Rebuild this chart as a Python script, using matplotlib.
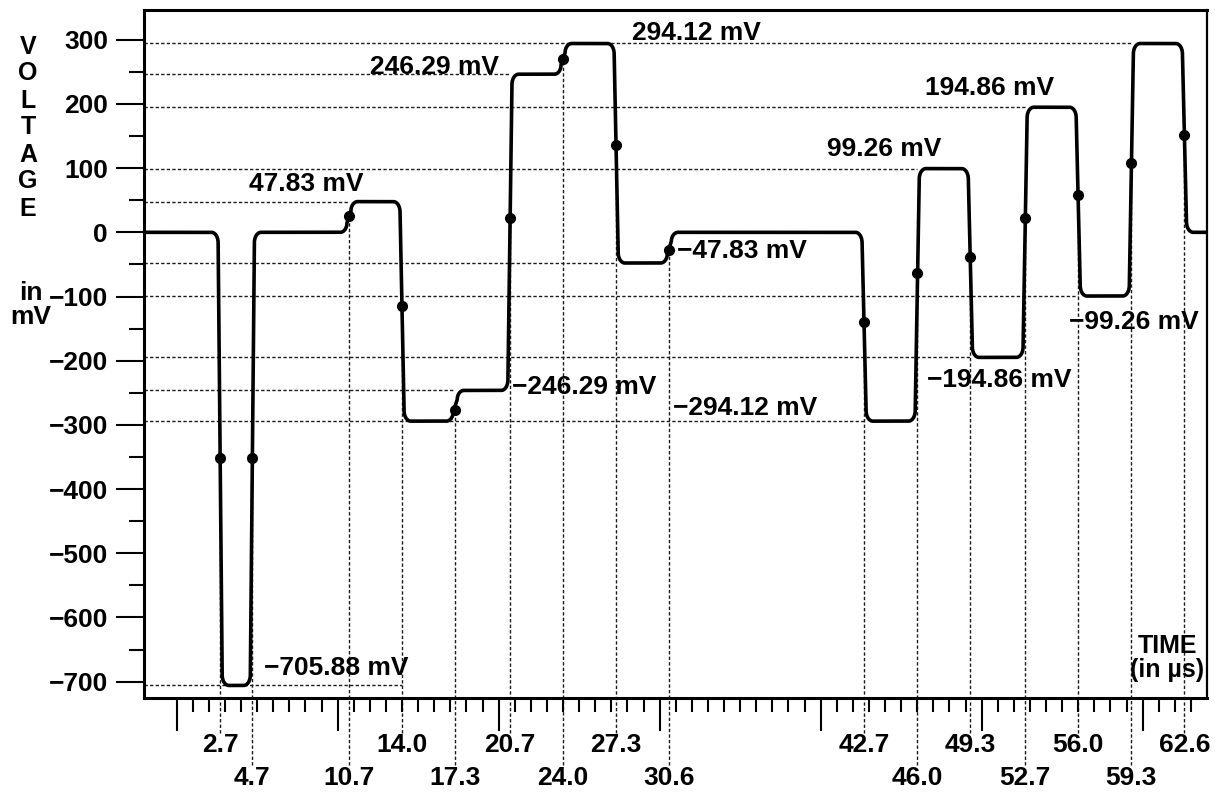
import matplotlib
matplotlib.use('Agg')
import matplotlib.pyplot as plt
import numpy as np

plt.rcParams['font.family'] = ['Liberation Sans', 'DejaVu Sans']
plt.rcParams['font.weight'] = 'bold'

# transition times (us), level reached after each transition (mV), dot voltages
t_edges = [2.7, 4.7, 10.7, 14.0, 17.3, 20.7, 24.0, 27.3, 30.6, 42.7, 46.0, 49.3, 52.7, 56.0, 59.3, 62.6]
v_levels = [-705.88, 0, 47.83, -294.12, -246.29, 246.29, 294.12, -47.83, 0,
            -294.12, 99.26, -194.86, 194.86, -99.26, 294.12, 0]
v_start = 0
v_dots = [-352, -352, 25, -115, -277, 22, 270, 136, -27, -140, -63, -38, 22, 58, 108, 152]
label_row = [0, 1, 1, 0, 1, 0, 1, 0, 1, 0, 1, 0, 1, 0, 1, 0]   # 0 = upper row, 1 = lower row

# reference levels with dashed lines: value, time where the line stops
ref_levels = [294.12, 246.29, 194.86, 99.26, 47.83, -47.83, -99.26, -194.86, -246.29, -294.12, -705.88]
ref_until = [59.3, 20.7, 52.7, 46.0, 10.7, 27.3, 56.0, 49.3, 17.3, 42.7, 14.0]

# level annotations: text, left x (us), centre y (mV)
level_text = ['47.83 mV', '246.29 mV', '294.12 mV', '\u221247.83 mV', '\u2212246.29 mV',
              '\u2212294.12 mV', '\u2212705.88 mV', '99.26 mV', '194.86 mV',
              '\u2212194.86 mV', '\u221299.26 mV']
text_x = [4.5, 12.0, 28.3, 31.1, 20.8, 30.8, 5.4, 40.4, 46.5, 46.6, 55.4]
text_y = [75, 257, 311, -29, -241, -274, -679, 130, 225, -230, -140]

XLIM = (-2.03, 64.0)
YLIM = (-725.4, 346.3)
W, H = 1215, 795


def edge(t0, a, b, lean=0.25, rx=0.42, ry=16.0, n=14):
    # one rounded edge from level a to level b centred on t0
    s = np.sign(b - a)
    ry = min(ry, 0.3 * abs(b - a))
    th1 = np.linspace(-np.pi / 2, 0, n)
    cx1, cy1 = t0 - lean / 2 - rx, a + s * ry
    p1 = np.c_[cx1 + rx * np.cos(th1), cy1 + s * ry * np.sin(th1)]
    th2 = np.linspace(np.pi, np.pi / 2, n)
    cx2, cy2 = t0 + lean / 2 + rx, b - s * ry
    p2 = np.c_[cx2 + rx * np.cos(th2), cy2 + s * ry * np.sin(th2)]
    return np.vstack([p1, p2])


fig = plt.figure(figsize=(W / 100, H / 100), dpi=100)
ax = fig.add_axes([144 / W, 1 - 698 / H, (1207 - 144) / W, (698 - 10) / H])
ax.set_xlim(*XLIM)
ax.set_ylim(*YLIM)

dash = (0, (2.4, 1.6))

# horizontal reference lines
ax.hlines(ref_levels, XLIM[0], ref_until, colors='#1a1a1a', linewidth=1.0,
          linestyles=[dash], zorder=1)

# vertical lines from the edge dots down to the time labels
frac_end = [-0.051, -0.097]
frac_lab = [-0.068, -0.117]
for t, vd, r in zip(t_edges, v_dots, label_row):
    y_end = YLIM[0] + frac_end[r] * (YLIM[1] - YLIM[0])
    ax.vlines(t, y_end, vd, colors='#1a1a1a', linewidth=1.0, linestyles=[dash],
              zorder=1, clip_on=False)
    ax.text(t, frac_lab[r], f'{t:.1f}', transform=ax.get_xaxis_transform(),
            ha='center', va='center', fontsize=19)

# waveform
pts = [np.array([[XLIM[0], v_start]])]
prev = v_start
for t, v in zip(t_edges, v_levels):
    pts.append(edge(t, prev, v))
    prev = v
pts.append(np.array([[XLIM[1], prev]]))
pts = np.vstack(pts)
ax.plot(pts[:, 0], pts[:, 1], color='black', linewidth=2.6, solid_joinstyle='round', zorder=3)
ax.plot(t_edges, v_dots, 'o', color='black', markersize=7, zorder=4)

for s, x, y in zip(level_text, text_x, text_y):
    ax.text(x, y, s, ha='left', va='center', fontsize=19, zorder=5)

# axes styling
for side in ['left', 'bottom', 'top']:
    ax.spines[side].set_linewidth(2.2)
ax.spines['right'].set_linewidth(1.6)

ax.set_xticks(np.arange(0, 61, 10))
ax.set_xticks([i for i in range(1, 64) if i % 10], minor=True)
ax.tick_params(axis='x', which='major', length=24, width=1.5, labelbottom=False)
ax.tick_params(axis='x', which='minor', length=10, width=1.5)

ax.set_yticks(np.arange(-700, 301, 100))
ax.set_yticks(np.arange(-650, 301, 100), minor=True)
ax.tick_params(axis='y', which='major', length=20, width=1.5, pad=6, labelsize=19)
ax.tick_params(axis='y', which='minor', length=11, width=1.5)

# axis titles
for i, ch in enumerate('VOLTAGE'):
    fig.text(28 / W, 1 - (46.5 + 27 * i) / H, ch, ha='center', va='center', fontsize=18)
fig.text(31 / W, 1 - 305 / H, 'in\nmV', ha='center', va='center', fontsize=19, linespacing=0.95)
fig.text(1167 / W, 1 - 658 / H, 'TIME\n(in \u00b5s)', ha='center', va='center', fontsize=18,
         linespacing=0.95)

plt.savefig('out.png', dpi=100)
plt.close()
